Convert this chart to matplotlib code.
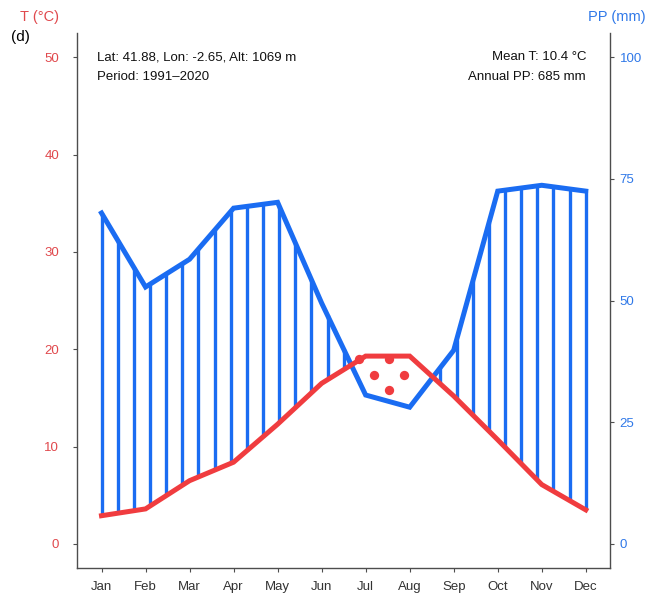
import numpy as np
import matplotlib.pyplot as plt

plt.rcParams['font.family'] = ['Liberation Sans', 'DejaVu Sans']

months = ['Jan', 'Feb', 'Mar', 'Apr', 'May', 'Jun',
          'Jul', 'Aug', 'Sep', 'Oct', 'Nov', 'Dec']
temp = np.array([2.9, 3.6, 6.5, 8.4, 12.3, 16.5, 19.3, 19.3, 15.2, 10.7, 6.1, 3.5])
prec = np.array([68.0, 52.8, 58.5, 69.0, 70.2, 49.5, 30.6, 28.1, 39.8, 72.5, 73.7, 72.5])

t_ticks = [0, 10, 20, 30, 40, 50]
pp_ticks = [0, 25, 50, 75, 100]

red = '#f03c3f'
blue = '#1a6cf2'
red_txt = '#e0484c'
blue_txt = '#2f78e8'
axis_col = '#4d4d4d'

x = np.arange(1, 13)
pp_scaled = prec / 2.0  # PP axis is twice the T axis

fig = plt.figure(figsize=(6.54, 5.93), dpi=100)
ax = fig.add_axes([0.1182, 0.0417, 0.8145, 0.9027])

# humid period hatching
xh = np.linspace(1, 12, 31)
th = np.interp(xh, x, temp)
ph = np.interp(xh, x, pp_scaled)
wet = ph > th
ax.vlines(xh[wet], th[wet], ph[wet], color=blue, lw=2.4, zorder=2)

# dry period dots on a staggered grid
dots_x, dots_y = [], []
for i, yy in enumerate(np.arange(19.0, 10.0, -1.6)):
    off = 0.0 if i % 2 == 0 else 0.34
    for xx in np.arange(6.86 + off, 8.6, 0.68):
        tv = np.interp(xx, x, temp)
        pv = np.interp(xx, x, pp_scaled)
        if pv + 0.6 < yy < tv + 0.2:
            dots_x.append(xx)
            dots_y.append(yy)
ax.scatter(dots_x, dots_y, s=45, color=red, lw=0, zorder=2)

ax.plot(x, pp_scaled, color=blue, lw=3.6, solid_joinstyle='miter', zorder=3)
ax.plot(x, temp, color=red, lw=3.6, solid_joinstyle='miter', zorder=4)

ax.set_xlim(0.45, 12.55)
ax.set_ylim(-2.5, 52.5)
ax.set_xticks(x)
ax.set_xticklabels(months)
ax.set_yticks(t_ticks)
ax.tick_params(axis='y', colors=axis_col, labelcolor=red_txt, labelsize=9.5,
               length=3, pad=10)
ax.tick_params(axis='x', colors=axis_col, labelcolor='#333333', labelsize=9.5,
               length=3, pad=6)
ax.spines['top'].set_visible(False)
ax.spines['right'].set_visible(False)
for s in ['left', 'bottom']:
    ax.spines[s].set_color(axis_col)
    ax.spines[s].set_linewidth(1.0)

ax2 = ax.twinx()
ax2.set_ylim(-5, 105)
ax2.set_yticks(pp_ticks)
ax2.tick_params(axis='y', colors=axis_col, labelcolor=blue_txt, labelsize=9.5,
                length=3, pad=4)
for s in ['top', 'left', 'bottom']:
    ax2.spines[s].set_visible(False)
ax2.spines['right'].set_color(axis_col)
ax2.spines['right'].set_linewidth(1.0)

fig.text(40 / 654, 1 - 17 / 593, 'T (°C)', color=red_txt, fontsize=10.5,
         ha='center', va='center')
fig.text(617 / 654, 1 - 17 / 593, 'PP (mm)', color=blue_txt, fontsize=10.5,
         ha='center', va='center')
fig.text(20 / 654, 1 - 37 / 593, '(d)', color='black', fontsize=11,
         ha='center', va='center')

fig.text(97 / 654, 1 - 57 / 593, 'Lat: 41.88, Lon: -2.65, Alt: 1069 m',
         fontsize=9.5, ha='left', va='center', color='#111111')
fig.text(97 / 654, 1 - 77 / 593, 'Period: 1991\u20132020',
         fontsize=9.5, ha='left', va='center', color='#111111')
fig.text(586 / 654, 1 - 57 / 593, 'Mean T: 10.4 °C',
         fontsize=9.5, ha='right', va='center', color='#111111')
fig.text(586 / 654, 1 - 77 / 593, 'Annual PP: 685 mm',
         fontsize=9.5, ha='right', va='center', color='#111111')

fig.savefig('out.png', dpi=100)
